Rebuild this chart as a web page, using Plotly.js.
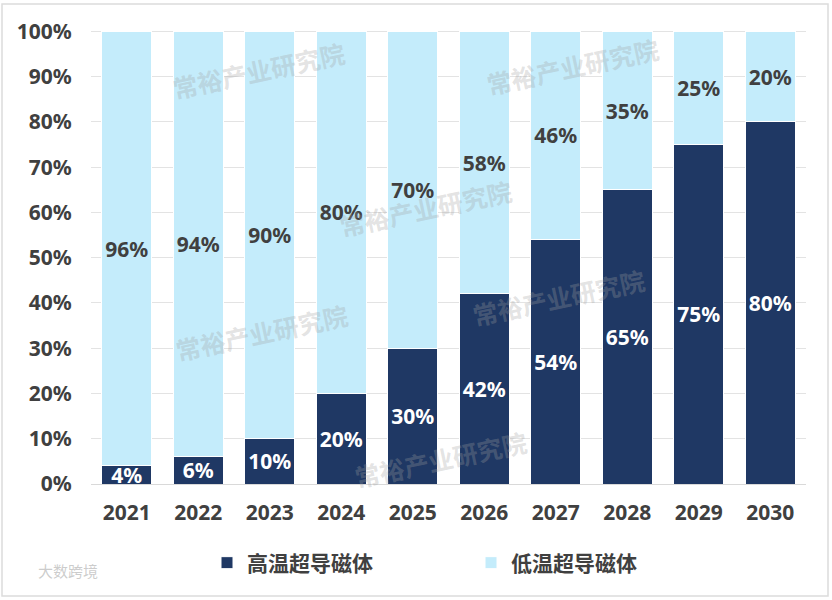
<!DOCTYPE html>
<html>
<head>
<meta charset="utf-8">
<script src="https://cdn.plot.ly/plotly-3.0.1.min.js"></script>
<style>
  html, body { margin: 0; padding: 0; background: #fff; }
  #chart { width: 832px; height: 600px; }
</style>
</head>
<body>
<div id="chart"></div>
<script>
let years = ['2021', '2022', '2023', '2024', '2025', '2026', '2027', '2028', '2029', '2030'];
let highTemp = [4, 6, 10, 20, 30, 42, 54, 65, 75, 80];
let lowTemp = [96, 94, 90, 80, 70, 58, 46, 35, 25, 20];
let seriesNames = ['高温超导磁体', '低温超导磁体'];
let yTicks = [0, 10, 20, 30, 40, 50, 60, 70, 80, 90, 100];
let watermarkText = '常裕产业研究院';

let fontFamily = '"Noto Sans", "Noto Sans CJK SC", sans-serif';
let navy = '#1F3864';
let lightBlue = '#C4ECFB';
let textGray = '#404040';

// plot area in pixels, used to place the watermarks and border
let plotLeft = 91, plotRight = 806, plotTop = 30, plotBottom = 484;

function px2paperX(px) {
    return (px - plotLeft) / (plotRight - plotLeft);
}

function px2paperY(py) {
    return (plotBottom - py) / (plotBottom - plotTop);
}

function pctLabels(values) {
    return values.map(function (v) { return v + '%'; });
}

let data = [
    {
        x: years,
        y: highTemp,
        text: pctLabels(highTemp),
        name: seriesNames[0],
        type: 'bar',
        marker: { color: navy, line: { color: '#ffffff', width: 1 } },
        texttemplate: '%{text}',
        textposition: 'inside',
        insidetextanchor: 'middle',
        textangle: 0,
        constraintext: 'none',
        textfont: { family: fontFamily, size: 21, color: '#ffffff', weight: 'bold' },
        hoverinfo: 'none'
    },
    {
        x: years,
        y: lowTemp,
        text: pctLabels(lowTemp),
        name: seriesNames[1],
        type: 'bar',
        marker: { color: lightBlue, line: { color: '#ffffff', width: 1 } },
        texttemplate: '%{text}',
        textposition: 'inside',
        insidetextanchor: 'middle',
        textangle: 0,
        constraintext: 'none',
        textfont: { family: fontFamily, size: 21, color: textGray, weight: 'bold' },
        hoverinfo: 'none'
    }
];

let watermarkSpots = [
    [167, 32], [664, 28], [425, 170], [170, 332], [650, 335], [440, 497]
];

let annotations = watermarkSpots.map(function (p) {
    return {
        text: watermarkText,
        xref: 'paper',
        yref: 'paper',
        x: px2paperX(p[0]),
        y: px2paperY(p[1]),
        showarrow: false,
        textangle: -12,
        font: { family: '"Noto Sans CJK SC", sans-serif', size: 25, color: 'rgba(160,160,160,0.30)', weight: 'bold' }
    };
});

annotations.push({
    text: '大数跨境',
    xref: 'paper',
    yref: 'paper',
    x: px2paperX(36),
    y: px2paperY(583),
    xanchor: 'left',
    showarrow: false,
    font: { family: '"Noto Sans CJK SC", sans-serif', size: 15, color: 'rgba(170,170,170,0.6)' }
});

let layout = {
    width: 832,
    height: 600,
    paper_bgcolor: '#ffffff',
    plot_bgcolor: '#ffffff',
    barmode: 'stack',
    bargap: 0.3,
    margin: { l: plotLeft, r: 832 - plotRight, t: plotTop, b: 600 - plotBottom },
    font: { family: fontFamily, color: textGray },
    showlegend: true,
    legend: {
        orientation: 'h',
        xref: 'container',
        yref: 'container',
        x: 207 / 832,
        xanchor: 'left',
        y: 1 - 563 / 600,
        yanchor: 'middle',
        entrywidth: 219,
        traceorder: 'normal',
        font: { family: '"Noto Sans CJK SC", sans-serif', size: 21, color: textGray, weight: 'bold' }
    },
    xaxis: {
        type: 'category',
        showgrid: false,
        showline: true,
        linecolor: '#d9d9d9',
        linewidth: 1,
        ticks: 'outside',
        ticklen: 10,
        tickcolor: 'rgba(0,0,0,0)',
        tickfont: { family: fontFamily, size: 21, color: textGray, weight: 'bold' },
        fixedrange: true
    },
    yaxis: {
        range: [0, 100.3],
        tickvals: yTicks,
        ticktext: yTicks.map(function (v) { return v + '%'; }),
        showgrid: true,
        gridcolor: '#e3e3e3',
        gridwidth: 1,
        zeroline: false,
        showline: false,
        ticks: 'outside',
        ticklen: 14,
        tickcolor: 'rgba(0,0,0,0)',
        tickfont: { family: fontFamily, size: 21, color: textGray, weight: 'bold' },
        fixedrange: true
    },
    shapes: [
        {
            type: 'rect',
            xref: 'paper',
            yref: 'paper',
            x0: px2paperX(2),
            x1: px2paperX(828),
            y0: px2paperY(596),
            y1: px2paperY(4),
            line: { color: '#dcdcdc', width: 1.5 },
            fillcolor: 'rgba(0,0,0,0)'
        }
    ],
    annotations: annotations
};

Plotly.newPlot('chart', data, layout, { displayModeBar: false, staticPlot: true });
</script>
</body>
</html>
